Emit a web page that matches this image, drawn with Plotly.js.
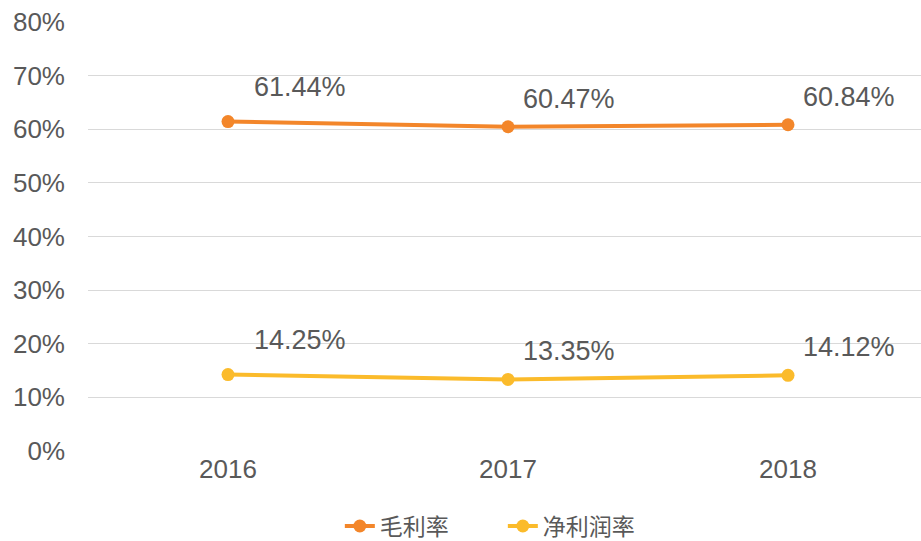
<!DOCTYPE html>
<html>
<head>
<meta charset="utf-8">
<script src="https://cdn.plot.ly/plotly-3.0.1.min.js"></script>
<style>html,body{margin:0;padding:0;background:#fff;}#chart{width:921px;height:541px;}</style>
</head>
<body>
<div id="chart"></div>
<script>
const years = ['2016', '2017', '2018'];
const grossMargin = [61.44, 60.47, 60.84];
const netMargin = [14.25, 13.35, 14.12];
const seriesNames = ['毛利率', '净利润率'];
const colors = ['#F3862A', '#FBBB2B'];

const traces = [grossMargin, netMargin].map((vals, i) => ({
  x: years, y: vals, name: seriesNames[i], type: 'scatter', mode: 'lines+markers',
  line: {color: colors[i], width: 4},
  marker: {color: colors[i], size: 13},
  hoverinfo: 'skip'
}));

const annotations = [];
[grossMargin, netMargin].forEach(vals => {
  vals.forEach((v, j) => {
    annotations.push({
      xref: 'x', yref: 'y',
      x: j, y: v, text: v.toFixed(2) + '%', showarrow: false,
      xanchor: 'left', yanchor: 'bottom',
      xshift: j === 0 ? 24 : 13, yshift: j === 0 ? 18 : 11,
      font: {family: 'Liberation Sans, Arial, sans-serif', size: 27, color: '#595959'}
    });
  });
});

const layout = {
  width: 921, height: 541,
  margin: {l: 88, r: 0, t: 22, b: 90, autoexpand: false},
  paper_bgcolor: '#fff', plot_bgcolor: '#fff',
  showlegend: true,
  legend: {orientation: 'h', x: 0.498, xanchor: 'center', y: -0.175, yanchor: 'middle',
    entrywidth: 118, entrywidthmode: 'pixels',
    font: {family: 'Noto Sans CJK SC, sans-serif', size: 23, color: '#595959'}},
  xaxis: {type: 'category', range: [-0.5, 2.475], showgrid: false, zeroline: false,
    showline: false, ticks: '', fixedrange: true,
    tickfont: {family: 'Liberation Sans, Arial, sans-serif', size: 26, color: '#595959'}},
  yaxis: {range: [0, 80], dtick: 10, ticksuffix: '%', showgrid: true, gridcolor: '#D9D9D9',
    gridwidth: 1, zeroline: false, showline: false, ticks: '', ticklabelstandoff: 22,
    tickfont: {family: 'Liberation Sans, Arial, sans-serif', size: 26, color: '#595959'}},
  annotations: annotations,
  font: {family: 'Liberation Sans, Arial, sans-serif', color: '#595959'}
};

Plotly.newPlot('chart', traces, layout, {displayModeBar: false, staticPlot: true});
</script>
</body>
</html>
